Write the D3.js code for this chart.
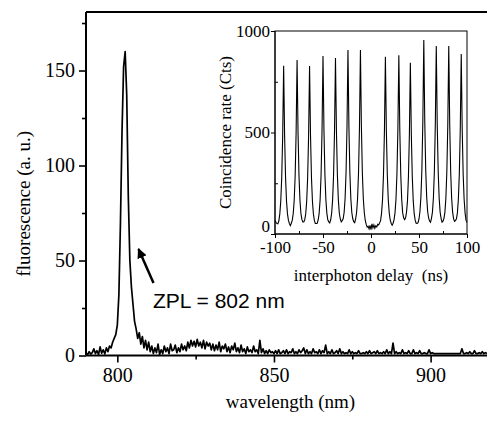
<!DOCTYPE html>
<html><head><meta charset="utf-8">
<script src="https://cdn.jsdelivr.net/npm/d3@7"></script>
<style>body{margin:0;background:#fff}svg{display:block}</style>
</head><body>
<svg id="c" width="487" height="421"></svg>
<script>
// ---- Data ----
const wlStart = 790, wlStep = 0.5;
const spectrum = [
1,0.5,2,0.8,1.5,3.5,1,2.5,0.5,4.5,1.2,3,0.8,4,2,5,4,7,9,11,
16,32,70,118,152,160,137,84,50,36,27,18,14,9,12,6,10,4,8,3,
7,2,5,1,4,1.5,6,0.5,3,1,5,2,4,1,6,2.5,3,5.5,1.5,4,
2,6,3,5,2.5,7,4,8,5,7.5,4.5,8.5,5,7,4,8,3.5,7,5,6.5,
3,6,2.5,5.5,3,7,2,5,3.5,6,2,4.5,1.5,5,3,6.5,2,4,1.5,5.5,
2,3.5,1,4.5,2,3,1.5,5,2,3,1,8,1.5,3.5,1,2.5,1,3,1.5,2,
1,2.5,1,3,1,1.5,2.5,1,3,1,2,1.5,3.5,1,2,1,3,1.5,2.5,4,
1,3,1,2,1,3.5,1.5,2,1,3,1,2.5,1.5,5.5,1,2,1,3,1,1.5,
2.5,1,3.5,1,2,1,1.5,1,3,1,2,1,1.5,1,2.5,1,1,1.5,1,2,
1,2.5,1,1.5,2,1,2.5,1,1.5,1,2,1,3,1,2,1,6.5,1,2,1,
1.5,1,3,1,1.5,1,2.5,1,1,3,1,1.5,1,2.5,1,1,1.5,1,1,3,
1,1.5,1,1,1,1,1,1,1,1,1,1,1,1,1,1,1,1,1,1,
3.5,1,1,1.5,1,2,1,1,2.5,1,1,1.5,1,2,1,1.5,1
];
const xTicksMain = [800, 850, 900];
const xMinorMain = [825, 875];
const yTicksMain = [0, 50, 100, 150];
const yMinorMain = [25, 75, 125, 175];

const delayStart = -100, delayStep = 1;
const coincidence = [
66,58,52,50,64,99,161,277,484,829,484,277,161,99,67,52,41,53,68,101,
166,286,500,857,500,286,166,101,72,59,59,71,99,161,277,484,828,484,277,161,
99,67,52,52,53,69,103,169,292,511,877,511,292,169,103,70,60,55,70,102,
167,289,506,867,506,289,167,102,74,60,66,75,106,174,301,527,906,527,301,174,
106,75,61,56,75,106,174,301,527,906,527,301,174,106,68,47,34,38,25,42,
22,50,30,45,28,40,35,48,45,55,66,103,168,291,509,873,509,291,168,103,
69,53,43,53,70,104,170,293,513,880,513,293,170,104,80,71,79,107,163,282,
493,844,493,282,163,100,68,53,52,56,74,111,183,316,555,956,555,316,183,111,
79,64,58,77,108,177,307,539,926,539,307,177,108,77,58,63,77,108,177,307,
539,926,539,307,177,108,76,62,66,75,104,171,295,517,887,517,295,171,104,67,58
];
const xTicksInset = [-100, -50, 0, 50, 100];
const xMinorInset = [-75, -25, 25, 75];
const yTicksInset = [0, 500, 1000];
const yMinorInset = [250, 750];

// ---- Drawing ----
const svg = d3.select("#c");
const serif = "'Liberation Serif','Times New Roman',serif";
const sans = "'Liberation Sans',Arial,sans-serif";

// Main chart
const M = {l: 86, r: 487, t: 12, b: 355.5};
const x = d3.scaleLinear().domain([790, 918]).range([M.l, M.r]);
const y = d3.scaleLinear().domain([0, 180.8]).range([M.b, M.t]);

const specData = spectrum.map((v, i) => [wlStart + i * wlStep, v]);
svg.append("path").datum(specData)
  .attr("fill", "none").attr("stroke", "#000").attr("stroke-width", 1.7)
  .attr("stroke-linejoin", "round")
  .attr("d", d3.line().x(d => x(d[0])).y(d => y(d[1])));

// axes
const gx = svg.append("g").attr("transform", `translate(0,${M.b})`)
  .call(d3.axisBottom(x).tickValues(xTicksMain).tickSize(7).tickPadding(5).tickFormat(d3.format("d")));
svg.append("g").attr("transform", `translate(0,${M.b})`)
  .call(d3.axisBottom(x).tickValues(xMinorMain).tickSize(4).tickFormat(""))
  .call(g => g.select(".domain").remove());
const gy = svg.append("g").attr("transform", `translate(${M.l},0)`)
  .call(d3.axisLeft(y).tickValues(yTicksMain).tickSize(7).tickPadding(4).tickFormat(d3.format("d")));
svg.append("g").attr("transform", `translate(${M.l},0)`)
  .call(d3.axisLeft(y).tickValues(yMinorMain).tickSize(4).tickFormat(""))
  .call(g => g.select(".domain").remove());
svg.selectAll("g").selectAll(".domain").attr("stroke-width", 2);
[gx, gy].forEach(g => g.selectAll("text").attr("font-family", serif).attr("font-size", 20).attr("fill", "#000"));
svg.selectAll(".tick line").attr("stroke-width", 1.6);
gx.select(".domain").attr("d", `M${M.l},0H${M.r}`);
gy.select(".domain").attr("d", `M0,${M.b}V${M.t}`);
// top frame
svg.append("line").attr("x1", M.l).attr("x2", M.r).attr("y1", M.t).attr("y2", M.t)
  .attr("stroke", "#000").attr("stroke-width", 2);

svg.append("text").attr("transform", `translate(30,${(M.t + M.b) / 2 + 20}) rotate(-90)`)
  .attr("text-anchor", "middle").attr("font-family", serif).attr("font-size", 19)
  .text("fluorescence (a. u.)");
svg.append("text").attr("x", (M.l + M.r) / 2 + 4).attr("y", 408)
  .attr("text-anchor", "middle").attr("font-family", serif).attr("font-size", 19)
  .text("wavelength (nm)");

// annotation
svg.append("defs").append("marker").attr("id", "ah").attr("viewBox", "0 0 10 10")
  .attr("refX", 9).attr("refY", 5).attr("markerWidth", 4).attr("markerHeight", 4)
  .attr("orient", "auto").attr("markerUnits", "strokeWidth")
  .append("path").attr("d", "M0,0L10,5L0,10z").attr("fill", "#000");
svg.append("line").attr("x1", 153.5).attr("y1", 283).attr("x2", 138.5).attr("y2", 249)
  .attr("stroke", "#000").attr("stroke-width", 2.5).attr("marker-end", "url(#ah)");
svg.append("text").attr("x", 153).attr("y", 308).attr("font-family", sans).attr("font-size", 21)
  .text("ZPL = 802 nm");

// Inset
const I = {l: 275, r: 467, t: 31, b: 234};
const xi = d3.scaleLinear().domain([-100, 100]).range([I.l, I.r]);
const yi = d3.scaleLinear().domain([0, 1000]).range([I.b, I.t]);
const coinData = coincidence.map((v, i) => [delayStart + i * delayStep, v]);
svg.append("rect").attr("x", I.l).attr("y", I.t).attr("width", I.r - I.l).attr("height", I.b - I.t)
  .attr("fill", "none").attr("stroke", "#000").attr("stroke-width", 1);
svg.append("path").datum(coinData)
  .attr("fill", "none").attr("stroke", "#000").attr("stroke-width", 1.1)
  .attr("d", d3.line().x(d => xi(d[0])).y(d => yi(d[1])));
const gxi = svg.append("g").attr("transform", `translate(0,${I.b})`)
  .call(d3.axisBottom(xi).tickValues(xTicksInset).tickSize(4).tickPadding(3).tickFormat(d3.format("d")));
svg.append("g").attr("transform", `translate(0,${I.b})`)
  .call(d3.axisTop(xi).tickValues(xMinorInset).tickSize(3).tickFormat(""))
  .call(g => g.select(".domain").remove());
const gyi = svg.append("g").attr("transform", `translate(${I.l},0)`)
  .call(d3.axisLeft(yi).tickValues(yTicksInset).tickSize(4).tickPadding(1).tickFormat(d3.format("d")));
svg.append("g").attr("transform", `translate(${I.l},0)`)
  .call(d3.axisRight(yi).tickValues(yMinorInset).tickSize(3).tickFormat(""))
  .call(g => g.select(".domain").remove());
[gxi, gyi].forEach(g => {
  g.select(".domain").attr("stroke-width", 1);
  g.selectAll(".tick line").attr("stroke-width", 1);
  g.selectAll("text").attr("font-family", serif).attr("font-size", 17).attr("fill", "#000");
});
gxi.select(".domain").attr("d", `M${I.l},0H${I.r}`);
gyi.select(".domain").attr("d", `M0,${I.b}V${I.t}`);
gxi.selectAll("text").text(d => d < 0 ? "-" + Math.abs(d) : d);
gyi.selectAll(".tick").filter(d => d === 0).select("text").attr("dy", "-0.12em");

svg.append("text").attr("transform", `translate(231,${(I.t + I.b) / 2}) rotate(-90)`)
  .attr("text-anchor", "middle").attr("font-family", serif).attr("font-size", 17)
  .text("Coincidence rate (Cts)");
svg.append("text").attr("x", (I.l + I.r) / 2).attr("y", 281)
  .attr("text-anchor", "middle").attr("font-family", serif).attr("font-size", 17)
  .attr("xml:space", "preserve").style("white-space", "pre")
  .text("interphoton delay  (ns)");
</script>
</body></html>
